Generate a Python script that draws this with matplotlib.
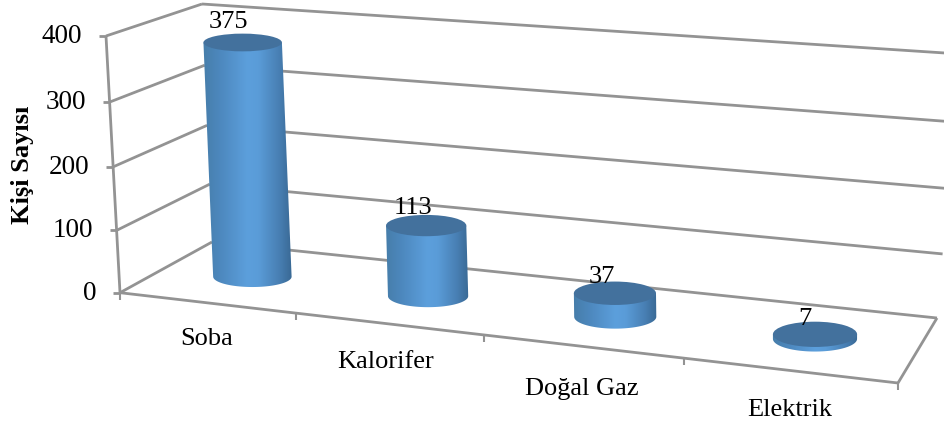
import numpy as np
import matplotlib
matplotlib.use("Agg")
import matplotlib.pyplot as plt
from matplotlib.patches import Ellipse, PathPatch
from matplotlib.path import Path
from matplotlib.colors import LinearSegmentedColormap

categories = ["Soba", "Kalorifer", "Doğal Gaz", "Elektrik"]
values = [375, 113, 37, 7]
y_ticks = [0, 100, 200, 300, 400]
y_label = "Kişi Sayısı"

W, H = 944, 429
plt.rcParams["font.family"] = ["Liberation Serif", "DejaVu Serif"]
fig = plt.figure(figsize=(W / 100, H / 100), dpi=100)
ax = fig.add_axes([0, 0, 1, 1])
ax.set_xlim(0, W)
ax.set_ylim(H, 0)
ax.axis("off")

# Box corners of the pseudo-3D scene
FL0, FR0 = np.array([120, 292.7]), np.array([898, 383.0])
BL0, BR0 = np.array([212, 242.0]), np.array([937, 318.0])
FL1, FR1 = np.array([106, 36.0]), np.array([880, 98.0])
BL1, BR1 = np.array([202, 4.0]), np.array([960, 54.0])
YMAX = y_ticks[-1]
NCAT = len(categories)


def fv(v):
    t = v / YMAX
    return t / (1 + 0.04 * (1 - t))


def gs(c):
    s = c / NCAT
    return s / (1 + 0.137 * (1 - s))


def proj(c, d, v):
    s, h = gs(c), fv(v)
    front = (1 - s) * ((1 - h) * FL0 + h * FL1) + s * ((1 - h) * FR0 + h * FR1)
    back = (1 - s) * ((1 - h) * BL0 + h * BL1) + s * ((1 - h) * BR0 + h * BR1)
    return (1 - d) * front + d * back


GRID = "#939393"


def seg(a, b, lw=2.0, z=1):
    ax.plot([a[0], b[0]], [a[1], b[1]], color=GRID, lw=lw, zorder=z,
            solid_capstyle="butt")


# walls and floor
for v in y_ticks:
    a, b, c = proj(0, 0, v), proj(0, 1, v), proj(NCAT, 1, v)
    seg(a, b)
    seg(b, c)
    seg(a, a - np.array([7, 0]))
    ax.text(a[0] - 23.5, a[1] + 0.5, str(v), ha="right", va="center", fontsize=19.5, color="black")
seg(proj(0, 0, 0), proj(0, 0, YMAX))
seg(proj(0, 0, 0), proj(NCAT, 0, 0))
seg(proj(NCAT, 0, 0), proj(NCAT, 1, 0))
for c in range(NCAT + 1):
    p = proj(c, 0, 0)
    seg(p, p + np.array([0, 7]), lw=1.5)

cmap = LinearSegmentedColormap.from_list(
    "cyl",
    [(0.0, "#467da9"), (0.2, "#4d88be"), (0.5, "#5c9fdc"), (0.62, "#5a9cd8"),
     (0.85, "#487fb3"), (1.0, "#386792")],
)
TOP = "#43719d"


def ry_at(y, c):
    return 8.6 + 0.0065 * (y - 44) + 2.5 * gs(c)


def rx_at(c):
    return 38.8 + 3.8 * gs(c)


XOFF = 2.5
label_dx = [-14.5, -13, -13, -10]
label_dy = [-6, -1, 1, 3]
cat_label_pos = [(207, 339), (386, 362), (582, 389), (790, 410)]
for i, (val, cat) in enumerate(zip(values, categories)):
    c = i + 0.5
    base = proj(c, 0.5, 0) + np.array([XOFF, 0])
    top = proj(c, 0.5, val) + np.array([XOFF, 0])
    rx = rx_at(c)
    ryb, ryt = ry_at(base[1], c), ry_at(top[1], c)
    th1 = np.linspace(np.pi, 0, 60)  # lower half of the base, left to right
    bx = base[0] + rx * np.cos(th1)
    by = base[1] + ryb * np.sin(th1)
    verts = np.vstack([[top[0] - rx, top[1]], np.c_[bx, by], [top[0] + rx, top[1]], [top[0] - rx, top[1]]])
    codes = [Path.MOVETO] + [Path.LINETO] * (len(verts) - 2) + [Path.CLOSEPOLY]
    patch = PathPatch(Path(verts, codes), fc="none", ec="none", zorder=3)
    ax.add_patch(patch)
    x0 = min(top[0], base[0]) - rx - 1
    x1 = max(top[0], base[0]) + rx + 1
    grad = np.linspace(0, 1, 256)[None, :]
    im = ax.imshow(grad, extent=[x0, x1, by.max() + 1, top[1]], cmap=cmap, vmin=0, vmax=1,
                   aspect="auto", zorder=3, interpolation="bilinear")
    im.set_clip_path(patch)
    ax.add_patch(Ellipse(top, 2 * rx, 2 * ryt, fc=TOP, ec="none", zorder=4))
    ax.text(top[0] + label_dx[i], top[1] - ryt + label_dy[i], str(val),
            ha="center", va="baseline", fontsize=19, color="black", zorder=5)
    ax.text(*cat_label_pos[i], cat, ha="center", va="center", fontsize=19, color="black")

ax.set_xlim(0, W)
ax.set_ylim(H, 0)
ax.text(22, 165, y_label, rotation=90, ha="center", va="center", fontsize=19,
        fontweight="bold", color="black")
fig.savefig("out.png", dpi=100, facecolor="white")
